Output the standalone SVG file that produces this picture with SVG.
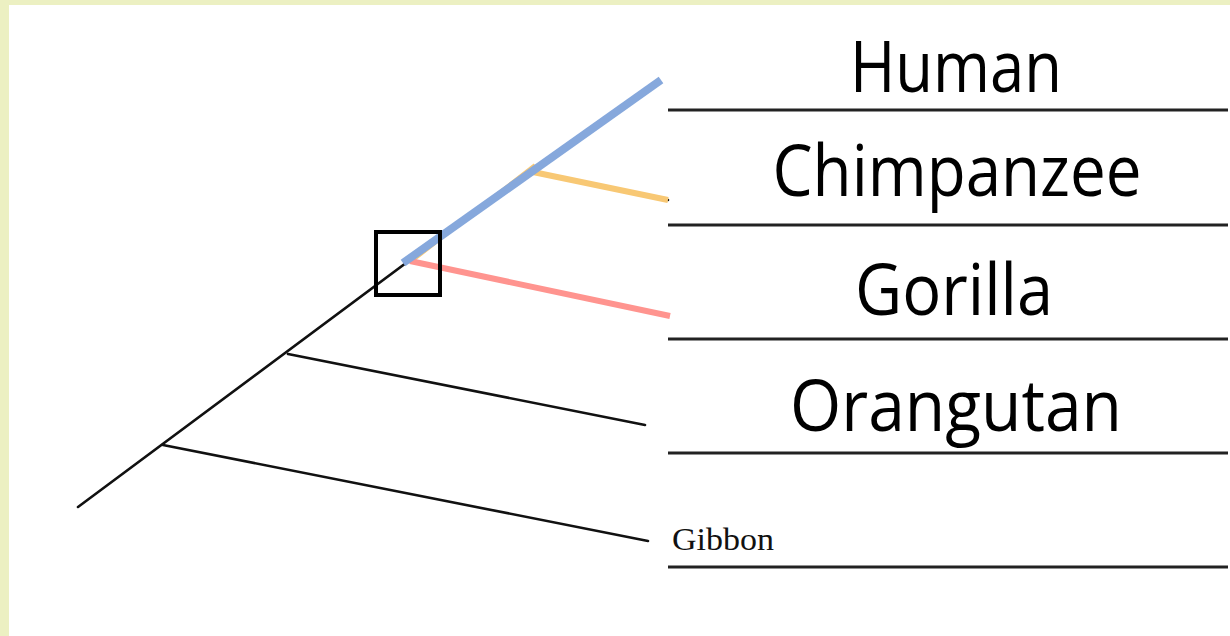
<svg xmlns="http://www.w3.org/2000/svg" width="1230" height="636" viewBox="0 0 1230 636">
<style>
.big{font-family:"Open Sans","DejaVu Sans",sans-serif;font-size:72px;fill:#000;text-anchor:middle}
.rule{stroke:#222;stroke-width:3}
.br{stroke:#111;stroke-width:2.6;fill:none;stroke-linecap:round}
</style>
<rect x="0" y="0" width="1230" height="636" fill="#ffffff"/>
<rect x="0" y="0" width="1230" height="5" fill="#ECF0C2"/>
<rect x="0" y="0" width="9" height="636" fill="#ECF0C2"/>
<g id="connectors">
<line class="br" x1="78" y1="507" x2="535" y2="167"/>
<line class="br" x1="163" y1="445" x2="648" y2="541"/>
<line class="br" x1="288" y1="354" x2="645" y2="425"/>
<line class="br" x1="408" y1="261" x2="668" y2="316"/>
<line class="br" x1="533" y1="172" x2="668" y2="200"/>
<line x1="413" y1="260" x2="535" y2="165" stroke="#F8C874" stroke-width="4"/>
<line x1="533" y1="172" x2="668" y2="200" stroke="#F8C874" stroke-width="6"/>
<line x1="410" y1="261" x2="670" y2="316" stroke="#FF948F" stroke-width="6"/>
<line x1="403" y1="263" x2="661" y2="80" stroke="#86A8DC" stroke-width="8"/>
</g>
<g id="box"><rect x="376" y="232" width="64" height="63" fill="none" stroke="#000" stroke-width="4"/></g>
<g id="rules">
<line class="rule" x1="668" y1="110" x2="1228" y2="110"/>
<line class="rule" x1="668" y1="225" x2="1228" y2="225"/>
<line class="rule" x1="668" y1="339" x2="1228" y2="339"/>
<line class="rule" x1="668" y1="453" x2="1228" y2="453"/>
<line class="rule" x1="668" y1="567" x2="1228" y2="567"/>
</g>
<g id="human"><text class="big" x="956" y="92" textLength="212" lengthAdjust="spacingAndGlyphs">Human</text></g>
<g id="chimpanzee"><text class="big" x="957" y="196" textLength="369" lengthAdjust="spacingAndGlyphs">Chimpanzee</text></g>
<g id="gorilla"><text class="big" x="954" y="315" textLength="198" lengthAdjust="spacingAndGlyphs">Gorilla</text></g>
<g id="orangutan"><text class="big" x="956" y="431" textLength="332" lengthAdjust="spacingAndGlyphs">Orangutan</text></g>
<g id="gibbon"><text x="672" y="550" font-family="Liberation Serif,serif" font-size="31" fill="#111" textLength="102" lengthAdjust="spacingAndGlyphs">Gibbon</text></g>
</svg>
